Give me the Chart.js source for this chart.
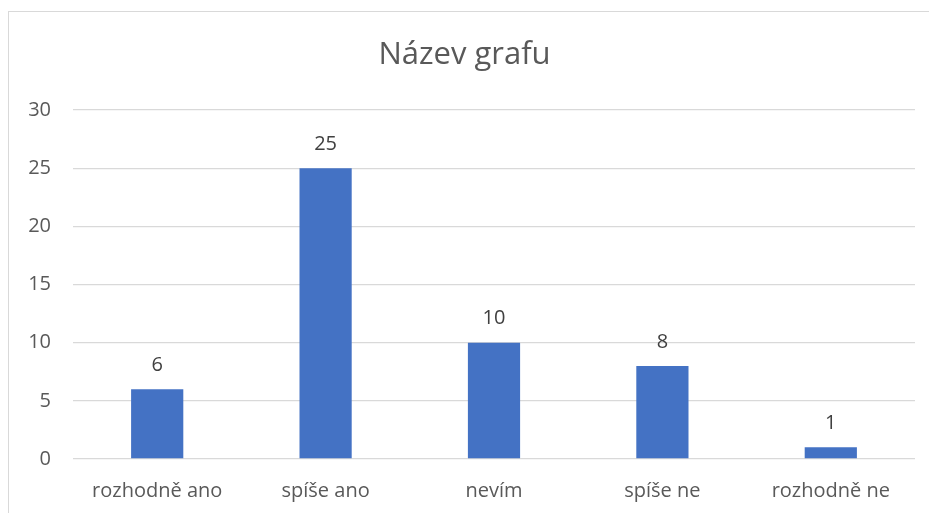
<!DOCTYPE html>
<html>
<head>
<meta charset="utf-8">
<script src="https://cdn.jsdelivr.net/npm/chart.js@4/dist/chart.umd.min.js"></script>
<style>
  html, body { margin:0; padding:0; background:#fff; overflow:hidden; }
  #wrap { position:relative; width:929px; height:513px; }
  #frame { position:absolute; left:8px; top:11px; width:960px; height:560px; border:1.5px solid #d9d9d9; box-sizing:border-box; }
  canvas { position:absolute; left:0; top:0; }
</style>
</head>
<body>
<div id="wrap">
  <div id="frame"></div>
  <canvas id="chart" width="929" height="513"></canvas>
</div>
<script>
const categories = ["rozhodně ano","spíše ano","nevím","spíše ne","rozhodně ne"];
const values = [6, 25, 10, 8, 1];
const yTicks = [0, 5, 10, 15, 20, 25, 30];

const FONT = "'Open Sans', sans-serif";
const TEXT = "#595959";

/* value labels above bars */
const barLabels = {
    id:'barLabels',
    afterDatasetsDraw(chart){
        const ctx = chart.ctx;
        const meta = chart.getDatasetMeta(0);
        ctx.save();
        ctx.font = "20px " + FONT;
        ctx.fillStyle = "#404040";
        ctx.textAlign = "center";
        ctx.textBaseline = "middle";
        meta.data.forEach((bar, i) => {
            ctx.fillText(String(values[i]), bar.x, bar.y - 24);
        });
        ctx.restore();
    }
};

new Chart(document.getElementById("chart"),{
    type:'bar',
    data:{
        labels:categories,
        datasets:[{
            data:values,
            backgroundColor:'#4472C4',
            borderWidth:0,
            categoryPercentage:1,
            barPercentage:0.31
        }]
    },
    options:{
        responsive:false,
        animation:false,
        layout:{ padding:{ left:14, right:14, top:20, bottom:0 } },
        plugins:{
            legend:{display:false},
            tooltip:{enabled:false},
            title:{
                display:true,
                text:"Název grafu",
                color:TEXT,
                font:{ family:FONT, size:31, weight:'normal' },
                padding:{ top:16.5, bottom:36.3 }
            }
        },
        scales:{
            x:{
                grid:{ display:false, drawTicks:false },
                border:{ display:false },
                ticks:{
                    color:TEXT,
                    font:{ family:FONT, size:20 },
                    padding:20,
                    maxRotation:0
                },
                afterFit(scale){ scale.height = 54; }
            },
            y:{
                min:0, max:30,
                afterBuildTicks(scale){ scale.ticks = yTicks.map(v => ({value:v})); },
                grid:{ color:'#d9d9d9', lineWidth:1.3, drawTicks:false },
                border:{ display:false },
                ticks:{
                    color:TEXT,
                    font:{ family:FONT, size:20 },
                    padding:22
                },
                afterFit(scale){ scale.width = 59; }
            }
        }
    },
    plugins:[barLabels]
});
</script>
</body>
</html>
